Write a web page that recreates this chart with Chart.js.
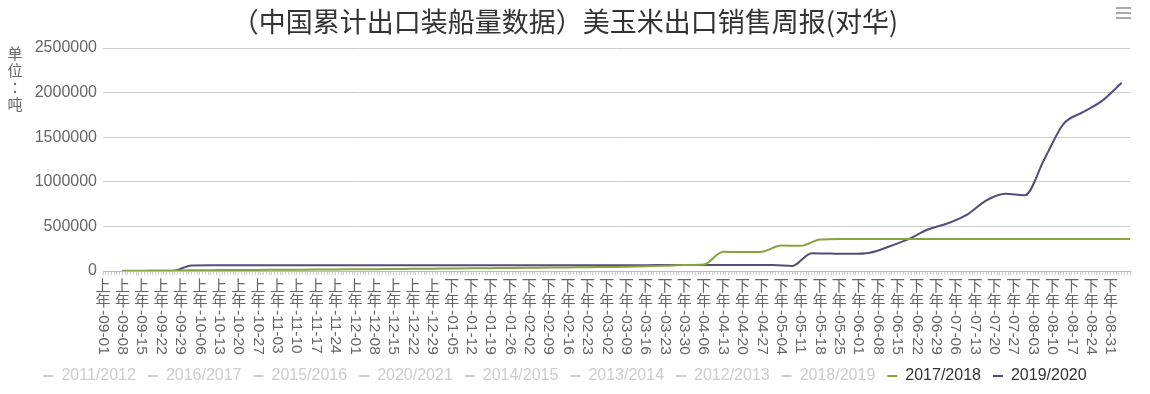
<!DOCTYPE html>
<html>
<head>
<meta charset="utf-8">
<script src="https://cdn.jsdelivr.net/npm/chart.js@4.4.0/dist/chart.umd.min.js"></script>
<style>
  html, body { margin: 0; padding: 0; background: #fff; }
  #wrap { position: relative; width: 1150px; height: 394px; }
  #unit { position: absolute; left: 6px; top: 44px; width: 18px; font: 15px "Noto Sans CJK SC"; color: #666; line-height: 17px; text-align: center; }
  #unit .colon { font-family: "Noto Sans CJK TC"; }
  #menu { position: absolute; left: 1116px; top: 7px; width: 15px; }
  #menu span { display: block; height: 2px; background: #aaa; margin-bottom: 3px; }
</style>
</head>
<body>
<div id="wrap">
  <canvas id="chart" width="1150" height="394"></canvas>
  <div id="unit">单<br>位<br><span class="colon">：</span><br>吨</div>
  <div id="menu"><span></span><span></span><span></span></div>
</div>
<script>
// week labels shown under the x axis (position = index * 7 days)
const weekLabels = [
    '上年-09-01', '上年-09-08', '上年-09-15', '上年-09-22', '上年-09-29', '上年-10-06', '上年-10-13',
    '上年-10-20', '上年-10-27', '上年-11-03', '上年-11-10', '上年-11-17', '上年-11-24', '上年-12-01',
    '上年-12-08', '上年-12-15', '上年-12-22', '上年-12-29', '下年-01-05', '下年-01-12', '下年-01-19',
    '下年-01-26', '下年-02-02', '下年-02-09', '下年-02-16', '下年-02-23', '下年-03-02', '下年-03-09',
    '下年-03-16', '下年-03-23', '下年-03-30', '下年-04-06', '下年-04-13', '下年-04-20', '下年-04-27',
    '下年-05-04', '下年-05-11', '下年-05-18', '下年-05-25', '下年-06-01', '下年-06-08', '下年-06-15',
    '下年-06-22', '下年-06-29', '下年-07-06', '下年-07-13', '下年-07-20', '下年-07-27', '下年-08-03',
    '下年-08-10', '下年-08-17', '下年-08-24', '下年-08-31'
];

// 2017/2018 (days since 09-01, tonnes)
const days1718 = [
    7, 14, 21, 28, 35, 42, 49, 56, 63, 70, 77, 84, 91, 98, 105, 112, 119, 126,
    133, 140, 147, 154, 161, 168, 175, 182, 189, 196, 203, 210, 217, 224, 231, 238,
    245, 252, 259, 266, 273, 280, 287, 294, 301, 308, 315, 322, 329, 336, 343, 350,
    357, 364, 371
];
const values1718 = [
    2000, 4000, 5000, 7000, 8000, 10000, 11000, 12000, 14000, 15000, 16000, 18000,
    19000, 20000, 22000, 24000, 26000, 28000, 30000, 32000, 34000, 36000, 38000, 40000,
    42000, 45000, 48000, 52000, 58000, 66000, 72000, 215000, 212000, 216000, 285000,
    282000, 352000, 360000, 360000, 360000, 360000, 360000, 360000, 360000, 360000,
    360000, 360000, 360000, 360000, 360000, 360000, 360000, 360000
];

// 2019/2020
const days1920 = [
    7, 11, 18, 25, 32, 39, 46, 53, 60, 67, 74, 81, 88, 95, 102, 109, 116, 123,
    130, 137, 144, 151, 158, 165, 172, 179, 186, 193, 200, 207, 214, 221, 228, 235,
    242, 249, 256, 263, 270, 277, 284, 291, 298, 305, 312, 319, 326, 333, 340, 347,
    354, 361, 368
];
const values1920 = [
    0, 0, 0, 0, 62000, 64000, 64000, 64000, 64000, 64000, 64000, 64000, 64000,
    64000, 64000, 64000, 64000, 64000, 64000, 64000, 65000, 65000, 65000, 65000,
    65000, 65000, 65000, 65000, 66000, 66000, 66000, 66000, 66000, 66000, 66000,
    56000, 200000, 195000, 192000, 205000, 275000, 358000, 465000, 532000, 628000,
    790000, 865000, 848000, 1250000, 1650000, 1780000, 1910000, 2110000
];

const seriesNames = ['2011/2012', '2016/2017', '2015/2016', '2020/2021', '2014/2015',
    '2013/2014', '2012/2013', '2018/2019', '2017/2018', '2019/2020'];
const yTicks = [0, 500000, 1000000, 1500000, 2000000, 2500000];

const toPoints = (xs, ys) => xs.map((d, i) => ({ x: d, y: ys[i] }));

const datasets = seriesNames.map(name => {
    if (name === '2017/2018') {
        return { label: name, data: toPoints(days1718, values1718), borderColor: '#86a33f' };
    }
    if (name === '2019/2020') {
        return { label: name, data: toPoints(days1920, values1920), borderColor: '#574c79' };
    }
    return { label: name, data: [], borderColor: '#ccc', hidden: true };
});

// vertical x labels: CJK upright, date part turned 90deg
const xLabelPlugin = {
    id: 'xLabels',
    afterDraw(chart) {
        const { ctx, scales: { x } } = chart;
        weekLabels.forEach((lab, i) => {
            const px = x.getPixelForValue(i * 7);
            const top = x.top + 8;
            ctx.save();
            ctx.fillStyle = '#666';
            ctx.font = '15px "Noto Sans CJK SC"';
            ctx.textAlign = 'center';
            ctx.textBaseline = 'top';
            ctx.fillText(lab[0], px, top - 1);
            ctx.fillText(lab[1], px, top + 14);
            ctx.translate(px, top + 31);
            ctx.rotate(Math.PI / 2);
            ctx.font = '15.5px "Liberation Sans"';
            ctx.textAlign = 'left';
            ctx.textBaseline = 'middle';
            ctx.fillText(lab.slice(2), 0, 0);
            ctx.restore();
        });
    }
};

new Chart(document.getElementById('chart'), {
    type: 'line',
    data: { datasets },
    options: {
        responsive: false,
        animation: false,
        layout: { padding: { left: 0, right: 20, top: 0, bottom: 0 } },
        elements: {
            point: { radius: 0 },
            line: { borderWidth: 2, cubicInterpolationMode: 'monotone' }
        },
        scales: {
            x: {
                type: 'linear',
                min: 0,
                max: 371,
                ticks: { display: false, stepSize: 1 },
                grid: { drawOnChartArea: false, drawTicks: true, tickLength: 4, color: '#ccc' },
                border: { display: true, color: '#bbb' },
                afterFit(scale) { scale.height = 85; }
            },
            y: {
                min: 0,
                max: 2500000,
                afterBuildTicks(scale) { scale.ticks = yTicks.map(v => ({ value: v })); },
                ticks: { color: '#666', padding: 6, font: { size: 16, family: 'Liberation Sans' }, callback: v => String(v) },
                grid: { color: '#ccc', drawTicks: false },
                border: { display: false },
                afterFit(scale) { scale.width = 103; }
            }
        },
        plugins: {
            title: {
                display: true,
                text: '（中国累计出口装船量数据）美玉米出口销售周报(对华)',
                color: '#333',
                font: { size: 27, weight: 'normal', family: '"Noto Sans CJK SC"' },
                padding: { top: 6, bottom: 9.6 }
            },
            legend: {
                position: 'bottom',
                labels: {
                    usePointStyle: true,
                    pointStyleWidth: 10,
                    padding: 12,
                    font: { size: 16, family: 'Liberation Sans' },
                    generateLabels(chart) {
                        return chart.data.datasets.map((ds, i) => {
                            const on = chart.isDatasetVisible(i);
                            return {
                                text: ds.label,
                                fillStyle: on ? ds.borderColor : '#ccc',
                                strokeStyle: on ? ds.borderColor : '#ccc',
                                lineWidth: 2,
                                pointStyle: 'line',
                                hidden: false,
                                fontColor: on ? '#333' : '#ccc',
                                datasetIndex: i
                            };
                        });
                    }
                }
            },
            tooltip: { enabled: false }
        }
    },
    plugins: [xLabelPlugin]
});
</script>
</body>
</html>
